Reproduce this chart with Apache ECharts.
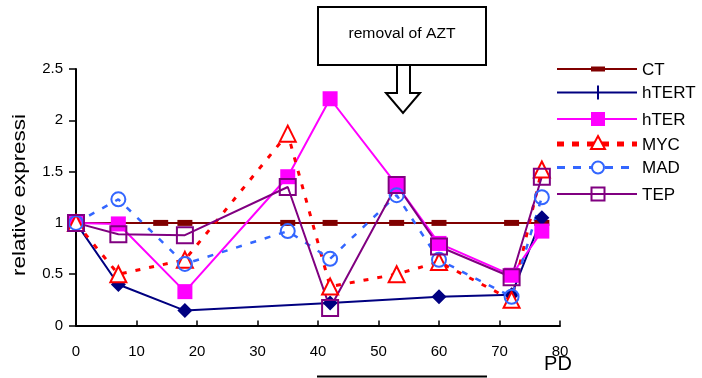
<!DOCTYPE html>
<html><head><meta charset="utf-8">
<script src="https://cdn.jsdelivr.net/npm/echarts@6/dist/echarts.min.js"></script>
<style>html,body{margin:0;padding:0;background:#fff}#c{width:702px;height:378px}</style>
</head><body><div id="c"></div>
<script>
const ctX = [0, 14, 18, 35, 42, 53, 60, 72, 77];
const ctY = [1, 1, 1, 1, 1, 1, 1, 1, 1];
const pd = [0, 7, 18, 35, 42, 53, 60, 72, 77];
const hTERT = [[0,1],[7,0.40],[18,0.145],[42,0.22],[60,0.28],[72,0.30],[77,1.05]];
const hTER = [1, 0.99, 0.33, 1.45, 2.21, 1.37, 0.80, 0.49, 0.92];
const MYC = [1, 0.50, 0.64, 1.87, 0.38, 0.50, 0.62, 0.25, 1.52];
const MAD = [1, 1.23, 0.60, 0.92, 0.65, 1.27, 0.64, 0.28, 1.25];
const TEP = [1, 0.89, 0.88, 1.35, 0.17, 1.37, 0.77, 0.47, 1.45];
const xTicks = [0, 10, 20, 30, 40, 50, 60, 70, 80];
const yTicks = [0, 0.5, 1, 1.5, 2, 2.5];
const legendNames = ['CT', 'hTERT', 'hTER', 'MYC', 'MAD', 'TEP'];

const pair = (xs, ys) => xs.map((x, i) => [x, ys[i]]);
const font = 'Liberation Sans, Arial, sans-serif';

// legend drawn as graphic
const LX1 = 557, LX2 = 637, LC = 598, LT = 642;
const LY = [69, 92.5, 119, 144, 167.5, 194];
const leg = [];
function legLine(y, color, width, dash) {
  leg.push({type: 'line', shape: {x1: LX1, y1: y, x2: LX2, y2: y}, style: {stroke: color, lineWidth: width, lineDash: dash || null}});
}
// CT
legLine(LY[0], '#800000', 2);
leg.push({type: 'rect', shape: {x: LC - 7, y: LY[0] - 2.5, width: 14, height: 5}, style: {fill: '#800000'}});
// hTERT
legLine(LY[1], '#000080', 2);
leg.push({type: 'line', shape: {x1: LC, y1: LY[1] - 7, x2: LC, y2: LY[1] + 7}, style: {stroke: '#000080', lineWidth: 2}});
// hTER
legLine(LY[2], '#FF00FF', 2);
leg.push({type: 'rect', shape: {x: LC - 7, y: LY[2] - 7, width: 14, height: 14}, style: {fill: '#FF00FF'}});
// MYC
legLine(LY[3], '#FF0000', 5, [7, 8]);
leg.push({type: 'polygon', shape: {points: [[LC, LY[3] - 8], [LC + 7, LY[3] + 5], [LC - 7, LY[3] + 5]]}, style: {fill: '#fff', stroke: '#FF0000', lineWidth: 2}});
// MAD
legLine(LY[4], '#3366FF', 3, [8, 8]);
leg.push({type: 'circle', shape: {cx: LC, cy: LY[4], r: 6}, style: {fill: '#fff', stroke: '#3366FF', lineWidth: 2}});
// TEP
legLine(LY[5], '#800080', 2);
leg.push({type: 'rect', shape: {x: LC - 6.5, y: LY[5] - 6.5, width: 13, height: 13}, style: {fill: 'rgba(0,0,0,0)', stroke: '#800080', lineWidth: 2}});
legendNames.forEach((n, i) => {
  leg.push({type: 'text', x: LT, y: LY[i] + 1, style: {text: n, font: '17px ' + font, fill: '#000', textAlign: 'left', textVerticalAlign: 'middle'}});
});

const chart = echarts.init(document.getElementById('c'));
chart.setOption({
  animation: false,
  textStyle: {fontFamily: font},
  grid: {left: 76, right: 142, top: 69, bottom: 52.5, containLabel: false},
  xAxis: {type: 'value', min: xTicks[0], max: xTicks[xTicks.length-1], interval: 10,
    axisLine: {lineStyle: {color: '#000', width: 2}},
    axisTick: {inside: true, length: 5, lineStyle: {color: '#000', width: 1.5}},
    axisLabel: {color: '#000', fontSize: 15, margin: 19},
    splitLine: {show: false}},
  yAxis: {type: 'value', min: yTicks[0], max: yTicks[yTicks.length-1], interval: 0.5,
    axisLine: {show: true, lineStyle: {color: '#000', width: 2}},
    axisTick: {show: true, inside: false, length: 7, lineStyle: {color: '#000', width: 1.5}},
    axisLabel: {color: '#000', fontSize: 15, margin: 13},
    splitLine: {show: false}},
  series: [
    {name: 'CT', type: 'line', data: pair(ctX, ctY), color: '#800000',
      lineStyle: {width: 2, color: '#800000'}, symbol: 'rect', symbolSize: [15, 6],
      itemStyle: {color: '#800000'}},
    {name: 'hTERT', type: 'line', data: hTERT, color: '#000080',
      lineStyle: {width: 2, color: '#000080'}, symbol: 'diamond', symbolSize: 15,
      itemStyle: {color: '#000080'}},
    {name: 'hTER', type: 'line', data: pair(pd, hTER), color: '#FF00FF',
      lineStyle: {width: 2, color: '#FF00FF'}, symbol: 'rect', symbolSize: 15,
      itemStyle: {color: '#FF00FF'}},
    {name: 'MYC', type: 'line', data: pair(pd, MYC), color: '#FF0000',
      lineStyle: {width: 3, color: '#FF0000', type: [5, 9]}, symbol: 'triangle', symbolSize: 16,
      itemStyle: {color: '#fff', borderColor: '#FF0000', borderWidth: 2}},
    {name: 'MAD', type: 'line', data: pair(pd, MAD), color: '#3366FF',
      lineStyle: {width: 2.5, color: '#3366FF', type: [6, 9]}, symbol: 'circle', symbolSize: 14,
      itemStyle: {color: 'rgba(255,255,255,0)', borderColor: '#3366FF', borderWidth: 2}},
    {name: 'TEP', type: 'line', data: pair(pd, TEP), color: '#800080',
      lineStyle: {width: 2, color: '#800080'}, symbol: 'rect', symbolSize: 16,
      itemStyle: {color: 'rgba(255,255,255,0)', borderColor: '#800080', borderWidth: 2}}
  ],
  graphic: [
    {type: 'rect', shape: {x: 318, y: 7, width: 168, height: 58}, style: {fill: '#fff', stroke: '#000', lineWidth: 2}},
    {type: 'text', x: 402, y: 34, scaleX: 1.12, style: {text: 'removal of AZT', font: '14px ' + font, fill: '#000', textAlign: 'center', textVerticalAlign: 'middle'}},
    {type: 'polygon', shape: {points: [[397,65],[410,65],[410,93],[420,93],[403,113],[386,93],[397,93]]}, style: {fill: '#fff', stroke: '#000', lineWidth: 2}},
    {type: 'line', shape: {x1: 317, y1: 376.5, x2: 487, y2: 376.5}, style: {stroke: '#000', lineWidth: 2}},
    {type: 'text', x: 20, y: 195, rotation: Math.PI/2, scaleX: 1.18, style: {text: 'relative expressi', font: '19px ' + font, fill: '#000', textAlign: 'center', textVerticalAlign: 'middle'}},
    {type: 'text', x: 558, y: 364, style: {text: 'PD', font: '20px ' + font, fill: '#000', textAlign: 'center', textVerticalAlign: 'middle'}}
  ].concat(leg)
});
</script></body></html>
